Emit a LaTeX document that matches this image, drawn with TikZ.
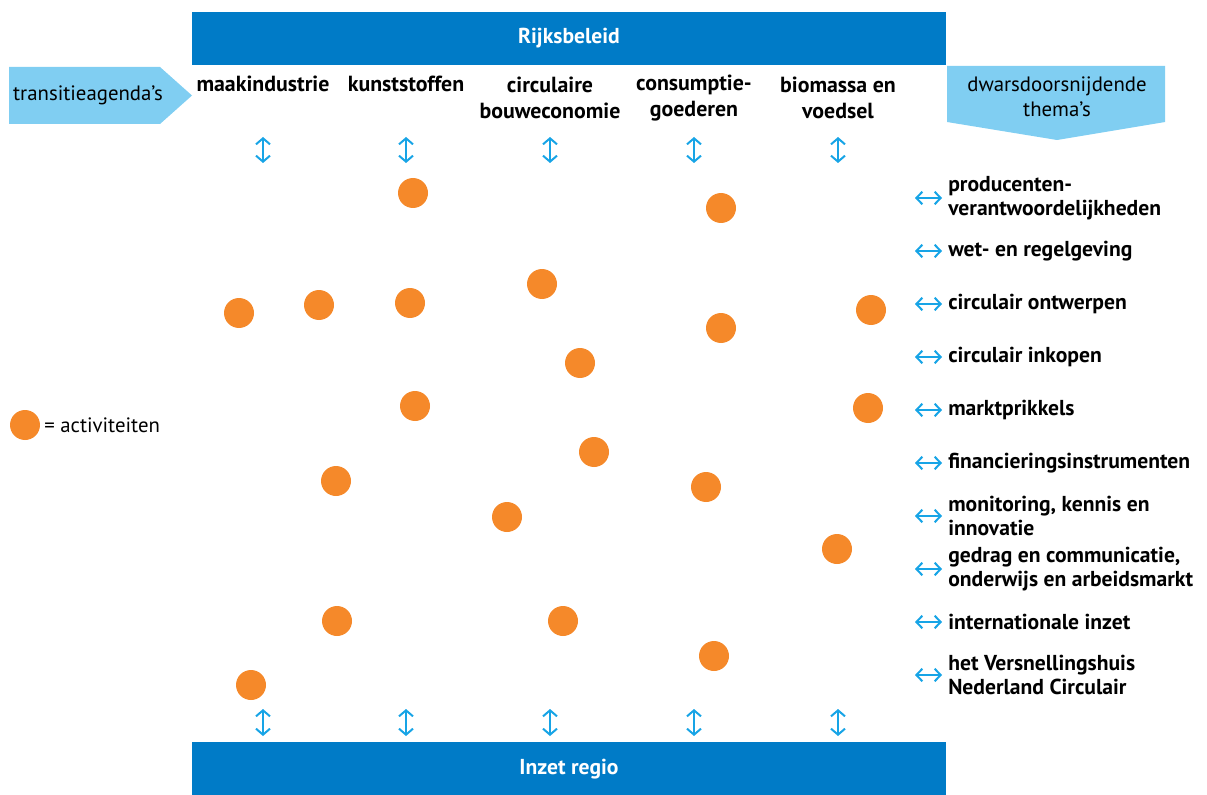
\documentclass[tikz,border=0pt]{standalone}
\usepackage{fontspec}
\setmainfont{PT Sans}
\usetikzlibrary{arrows.meta}
\definecolor{rijk}{HTML}{007BC7}
\definecolor{lightb}{HTML}{80CEF2}
\definecolor{arr}{HTML}{17A4E6}
\definecolor{dotc}{HTML}{F5892A}
\begin{document}
\begin{tikzpicture}[x=0.75pt,y=-0.75pt,
  bar/.style={fill=rijk,text=white,font=\bfseries\fontsize{16.2}{18}\selectfont,minimum width=565.5pt,minimum height=40pt,inner sep=0pt},
  head/.style={font=\bfseries\fontsize{16.4}{19}\selectfont,align=center,inner sep=0pt},
  theme/.style={font=\bfseries\fontsize{16.2}{18}\selectfont,align=left,anchor=west,inner sep=0pt},
  plain/.style={font=\fontsize{15.6}{18.5}\selectfont,align=center,inner sep=0pt},
  act/.style={circle,fill=dotc,minimum size=22.5pt,inner sep=0pt},
  varr/.style={draw=arr,line width=1.5pt,{Straight Barb[length=4.5pt,width=10.5pt,line width=1.5pt]}-{Straight Barb[length=4.5pt,width=10.5pt,line width=1.5pt]}},
  harr/.style={draw=arr,line width=1.5pt,{Straight Barb[length=4.5pt,width=9.5pt,line width=1.5pt]}-{Straight Barb[length=4.5pt,width=9.5pt,line width=1.5pt]}}
]
\useasboundingbox (0,0) rectangle (1207,795);
% bars
\node[bar] (top) at (569,38.5) {Rijksbeleid};
\node[bar] (bottom) at (569,769) {Inzet regio};
% side arrows
\fill[lightb] (9,67) -- (160,67) -- (192,95.5) -- (160,124) -- (9,124) -- cycle;
\node[plain] (trans) at (88,95.5) {transitieagenda’s};
\fill[lightb] (947,66) -- (1165,66) -- (1165,122) -- (1057,140) -- (947,122) -- cycle;
\node[plain] (dwars) at (1057,97) {dwarsdoorsnijdende\\thema’s};
% column headers
\node[head] (h1) at (263,84) {maakindustrie};
\node[head] (h2) at (406,84) {kunststoffen};
\node[head] (h3) at (550,98) {circulaire\\bouweconomie};
\node[head] (h4) at (694,98) {consumptie-\\goederen};
\node[head] (h5) at (838,98) {biomassa en\\voedsel};
% vertical arrows
\foreach \x [count=\i] in {263,406,550,694,838}{
  \coordinate (t\i a) at (\x,137);
  \coordinate (t\i b) at (\x,163);
  \coordinate (b\i a) at (\x,709);
  \coordinate (b\i b) at (\x,736);
  \draw[varr] (t\i a) -- (t\i b);
  \draw[varr] (b\i a) -- (b\i b);
}
% themes
\node[theme] (m1) at (948,198) {producenten-\\verantwoordelijkheden};
\node[theme] (m2) at (948,251) {wet- en regelgeving};
\node[theme] (m3) at (948,304) {circulair ontwerpen};
\node[theme] (m4) at (948,357) {circulair inkopen};
\node[theme] (m5) at (948,410) {marktprikkels};
\node[theme] (m6) at (948,463) {financieringsinstrumenten};
\node[theme] (m7) at (948,516) {monitoring, kennis en\\innovatie};
\node[theme] (m8) at (948,569) {gedrag en communicatie,\\onderwijs en arbeidsmarkt};
\node[theme] (m9) at (948,622) {internationale inzet};
\node[theme] (m10) at (948,675) {het Versnellingshuis\\Nederland Circulair};
\foreach \i/\y in {1/198,2/251,3/304,4/357,5/410,6/463,7/516,8/569,9/622,10/675}{
  \coordinate (s\i) at (915,\y);
  \coordinate (e\i) at (942,\y);
  \draw[harr] (s\i) -- (e\i);
}
% activities
\foreach \x/\y [count=\i] in {413/193,721/208,542/284,239/313,319/305,410/303,871/310,721/328,580/363,415/406,868/408,594/452,336/481,706/487,507/517,837/549,337/621,563/621,714/656,251/685}{
  \node[act] (a\i) at (\x,\y) {};
}
% legend
\node[act] (leg) at (25,425) {};
\node[plain,anchor=west] (legt) at (44,425) {= activiteiten};
\end{tikzpicture}
\end{document}
